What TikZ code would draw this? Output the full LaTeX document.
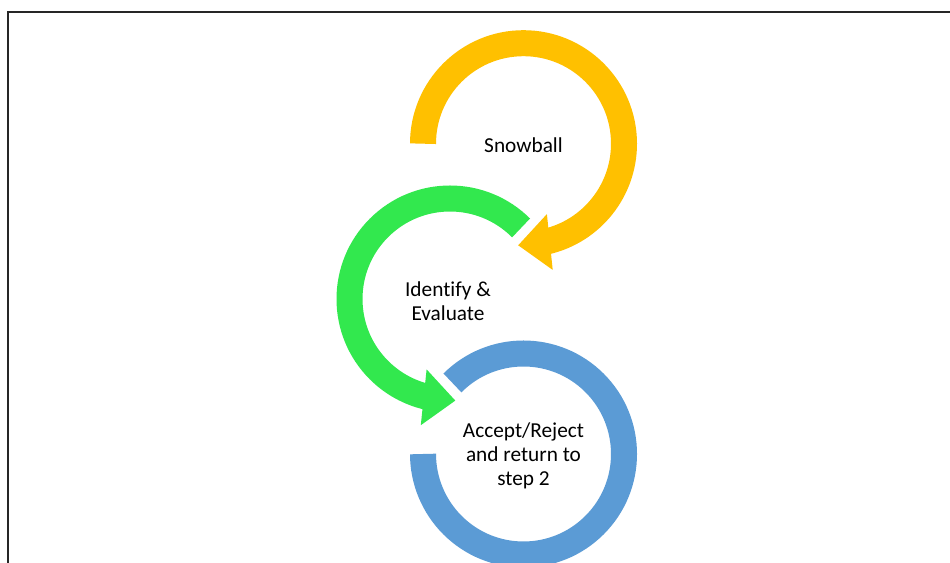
\documentclass[tikz,border=0pt]{standalone}
\usepackage{fontspec}
\setmainfont[Ligatures={NoCommon,NoContextual}]{Carlito}
\usetikzlibrary{calc}
\definecolor{cyellow}{RGB}{255,192,0}
\definecolor{cgreen}{RGB}{50,232,78}
\definecolor{cblue}{RGB}{91,155,213}
\tikzset{
  band/.style={line width=26pt, line cap=butt},
  lbl/.style={align=center, font=\fontsize{21.3pt}{24pt}\selectfont, text=black, inner sep=0pt},
  framebox/.style={draw=black!85, line width=1.9pt}
}
\begin{document}
\begin{tikzpicture}[x=1pt,y=1pt]
\useasboundingbox (0,0) rectangle (950,562);
\begin{scope}
\clip (0,0) rectangle (950,562);
\fill[white] (0,0) rectangle (950,562);
\draw[framebox] (8.2,549.8) rectangle (980,-40);
% centers
\coordinate (Y) at (523.5,418.3);
\coordinate (G) at (450,263);
\coordinate (B) at (523.5,108);
% yellow arc with arrowhead
\draw[band, cyellow] ($(Y)+(180:100.5)$) arc[start angle=180, end angle=-77, radius=100.5];
\fill[cyellow] ($(Y)+(29.2,-126.2)$) -- ($(Y)+(23.4,-70.4)$) -- ($(Y)+(-5.3,-101.6)$) -- cycle;
% green arc with arrowhead
\draw[band, cgreen] ($(G)+(45:100.5)$) arc[start angle=45, end angle=257, radius=100.5];
\fill[cgreen] ($(G)+(-29.2,-126.2)$) -- ($(G)+(-23.4,-70.4)$) -- ($(G)+(5.3,-101.6)$) -- cycle;
% blue arc
\draw[band, cblue] ($(B)+(135:100.5)$) arc[start angle=135, end angle=-180, radius=100.5];
% labels
\node[lbl] (snow) at ($(Y)+(0,-1)$) {Snowball};
\node[lbl] (ident) at ($(G)+(-2,-2)$) {Identify \&\\Evaluate};
\node[lbl] (accept) at ($(B)+(0,-2)$) {Accept/Reject\\and return to\\step 2};
\end{scope}
\end{tikzpicture}
\end{document}
